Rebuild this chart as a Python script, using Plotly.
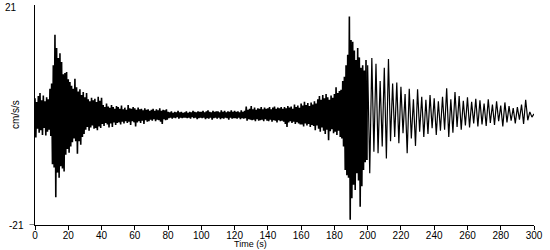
import plotly.graph_objects as go

# ---- data (cm/s/s) ----
# 0-199 s: per-second positive and negative extremes (0.5 s apart)
early_dt = 0.5
early_pos = [
    3.2, 2.5, 3.6, 4.2, 2.8, 3.7, 2.6, 3.4, 3.0, 5.0,
    6.0, 9.5, 15.3, 12.8, 10.9, 11.8, 10.1, 7.8, 8.0, 8.2,
    6.8, 6.3, 5.6, 5.0, 6.9, 5.3, 4.5, 4.9, 3.8, 4.4,
    3.4, 4.2, 3.0, 2.6, 3.3, 2.8, 3.1, 2.5, 3.5, 2.7,
    3.3, 1.9, 1.5, 2.2, 1.6, 1.4, 1.9, 1.5, 1.2, 1.7,
    1.5, 1.2, 1.8, 1.1, 1.4, 1.0, 1.9, 1.3, 1.2, 1.5,
    1.3, 1.0, 1.4, 1.1, 1.2, 0.9, 1.3, 1.0, 1.1, 0.8,
    1.0, 1.2, 0.8, 1.1, 0.9, 1.3, 0.8, 1.0, 0.9, 1.1,
    0.6, 0.5, 0.7, 0.4, 0.6, 0.5, 0.8, 0.5, 0.6, 0.4,
    0.5, 0.7, 0.4, 0.6, 0.5, 0.8, 0.6, 0.5, 0.7, 0.6,
    0.6, 0.8, 0.5, 0.7, 0.9, 0.6, 0.5, 0.8, 0.6, 0.7,
    0.7, 0.5, 0.9, 0.6, 0.8, 0.5, 0.7, 0.6, 0.9, 0.6,
    0.8, 0.6, 0.7, 0.5, 0.9, 0.6, 0.8, 1.6, 1.0, 1.2,
    1.7, 1.1, 1.4, 1.0, 1.3, 1.2, 1.5, 1.1, 1.4, 1.2,
    1.3, 1.5, 1.1, 1.4, 1.6, 1.2, 1.4, 1.3, 1.5, 1.2,
    1.5, 1.3, 1.7, 1.4, 1.6, 1.2, 2.0, 1.5, 1.8, 1.4,
    2.2, 1.8, 2.5, 1.9, 2.3, 1.7, 2.4, 2.0, 2.6, 2.2,
    3.0, 3.6, 2.9, 3.8, 3.2, 4.0, 3.4, 2.9, 3.7, 3.3,
    4.0, 5.3, 4.2, 4.6, 4.8, 6.5, 7.3, 9.5, 11.5, 18.8,
    14.3, 14.0, 12.3, 10.5, 12.8, 11.0, 9.0, 9.5, 8.5, 10.5,
]
early_neg = [
    -4.3, -2.6, -3.4, -2.9, -3.8, -2.5, -3.9, -3.2, -2.8, -4.0,
    -9.4, -10.0, -15.7, -11.0, -12.0, -9.8, -10.2, -10.8, -7.6, -6.5,
    -7.2, -6.0, -5.2, -4.5, -5.0, -7.4, -5.0, -5.7, -4.2, -3.6,
    -2.8, -2.3, -3.0, -2.4, -2.0, -2.6, -2.5, -2.9, -2.2, -2.5,
    -1.7, -2.1, -1.5, -1.8, -2.4, -1.6, -2.3, -1.4, -1.9, -1.5,
    -1.4, -1.8, -1.3, -1.6, -1.2, -1.5, -1.3, -1.9, -1.2, -1.4,
    -2.2, -1.4, -1.2, -1.5, -1.1, -1.7, -1.0, -1.3, -1.2, -0.9,
    -1.1, -0.8, -1.2, -0.9, -1.0, -1.3, -1.7, -0.8, -1.0, -0.9,
    -0.6, -0.5, -0.7, -0.5, -0.6, -0.4, -0.7, -0.5, -0.6, -0.5,
    -0.5, -0.6, -0.5, -0.7, -0.4, -0.6, -0.5, -0.8, -0.6, -0.5,
    -0.6, -0.5, -0.8, -0.6, -0.7, -0.5, -0.9, -0.6, -0.5, -0.7,
    -0.5, -0.8, -0.6, -0.7, -0.5, -0.6, -0.9, -0.5, -0.7, -0.6,
    -0.6, -0.7, -0.5, -0.8, -0.6, -0.7, -0.6, -1.1, -0.8, -0.9,
    -1.0, -0.9, -1.2, -0.8, -1.1, -1.0, -0.9, -1.2, -0.8, -1.1,
    -1.2, -0.9, -1.3, -1.0, -1.1, -1.4, -1.0, -1.2, -1.1, -1.3,
    -1.7, -2.3, -1.4, -1.2, -1.5, -1.3, -1.7, -1.4, -1.6, -1.8,
    -1.8, -2.2, -1.6, -2.0, -1.7, -2.3, -1.9, -2.1, -2.9, -2.0,
    -2.6, -3.2, -2.4, -3.0, -3.6, -2.8, -4.8, -3.1, -2.7, -3.5,
    -3.2, -3.8, -3.0, -4.2, -4.5, -6.0, -10.5, -11.5, -12.0, -20.0,
    -15.9, -13.3, -14.3, -11.1, -12.5, -17.5, -13.6, -10.5, -9.0, -8.6,
]
# 200-300 s: successive extremes of the slower coda, 1.25 s apart
late_start = 200
late_dt = 1.25
late_ext = [
    9.5, -11.1, 10.9, -7.0, 9.8, -7.3, 6.5, -6.0, 9.0, -8.3,
    10.7, -5.0, 6.0, -4.2, 6.2, -5.4, 5.4, -3.5, 4.0, -7.3,
    5.0, -4.5, 3.0, -5.9, 4.9, -3.2, 3.5, -4.2, 2.9, -3.6,
    3.8, -2.5, 3.2, -3.8, 2.6, -3.0, 3.5, -2.8, 5.1, -4.2,
    3.0, -3.4, 4.4, -2.3, 3.6, -2.8, 2.7, -2.0, 3.4, -2.4,
    2.5, -1.6, 3.1, -2.2, 2.8, -1.8, 2.2, -2.1, 3.0, -1.5,
    2.0, -1.9, 2.6, -1.2, 1.8, -2.2, 2.4, -1.4, 1.7, -1.1,
    1.3, -1.6, 1.5, -0.9, 2.0, -1.7, 2.9, -1.0, 0.6, -0.4,
    0.2,
]

x_ticks = list(range(0, 301, 20))
y_labels = ["21", "-21"]
y_limit = 21

# ---- build the traces ----
t_early, v_early = [], []
for i, (p, n) in enumerate(zip(early_pos, early_neg)):
    t_early.append(i * 2 * early_dt)
    v_early.append(p)
    t_early.append(i * 2 * early_dt + early_dt)
    v_early.append(n)
t_late, v_late = [t_early[-1]], [v_early[-1]]
for k, val in enumerate(late_ext):
    t_late.append(late_start + k * late_dt)
    v_late.append(val)

FONT = "Liberation Sans Narrow, Liberation Sans, Arial, sans-serif"

fig = go.Figure()
fig.add_trace(go.Scatter(x=t_early, y=v_early, mode="lines",
                         line=dict(color="black", width=1.6),
                         hoverinfo="skip", showlegend=False))
fig.add_trace(go.Scatter(x=t_late, y=v_late, mode="lines",
                         line=dict(color="black", width=1.2),
                         hoverinfo="skip", showlegend=False))

fig.update_layout(
    width=550, height=250,
    margin=dict(l=35, r=16, t=5, b=25),
    paper_bgcolor="white", plot_bgcolor="white",
    font=dict(family=FONT, size=10, color="black"),
    xaxis=dict(range=[0, 300], tickvals=x_ticks,
               ticktext=[str(x) for x in x_ticks],
               showline=True, linecolor="black", linewidth=1,
               ticks="outside", ticklen=4, tickcolor="black",
               ticklabelstandoff=-3,
               showgrid=False, zeroline=False,
               tickfont=dict(family=FONT, size=10, color="black")),
    yaxis=dict(range=[-y_limit, y_limit], tickvals=[],
               showline=True, linecolor="black", linewidth=1,
               showgrid=False, zeroline=False),
    shapes=[dict(type="line", xref="paper", yref="y",
                 x0=-0.011, x1=0, y0=-y_limit, y1=-y_limit,
                 line=dict(color="black", width=1))],
    annotations=[
        dict(text=y_labels[0], xref="paper", yref="y", x=-0.032, y=y_limit,
             xanchor="right", yanchor="middle", yshift=-2, showarrow=False,
             font=dict(family=FONT, size=10, color="black")),
        dict(text=y_labels[1], xref="paper", yref="y", x=-0.018, y=-y_limit,
             xanchor="right", yanchor="middle", showarrow=False,
             font=dict(family=FONT, size=10, color="black")),
        dict(text="cm/s/s", xref="paper", yref="paper", x=-0.025, y=0.5,
             xanchor="right", yanchor="middle", textangle=-90, showarrow=False,
             font=dict(family=FONT, size=10, color="black")),
        dict(text="Time (s)", xref="paper", yref="paper", x=0.431, y=-0.1136,
             xanchor="center", yanchor="bottom", showarrow=False, borderpad=0,
             font=dict(family=FONT, size=9, color="black")),
    ],
)

fig.write_html("out.html")
